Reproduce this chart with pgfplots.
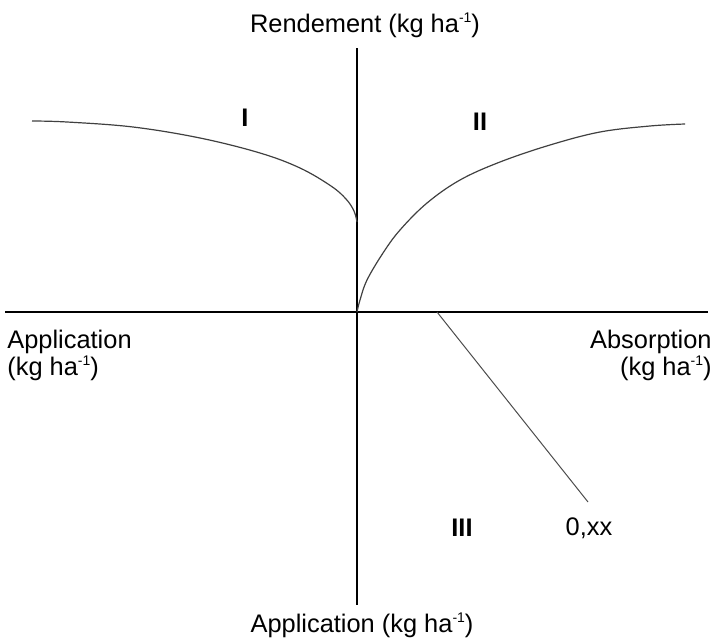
\documentclass[border=0pt]{standalone}
\usepackage{fontspec}
\setmainfont{Liberation Sans}
\usepackage{pgfplots}
\pgfplotsset{compat=1.18}
\newcommand{\supx}[1]{\raisebox{0.75ex}{\scriptsize #1}}
\begin{document}
\begin{tikzpicture}
\begin{axis}[
  scale only axis, width=357.5pt, height=319.5pt,
  xmin=-357, xmax=358, ymin=-327, ymax=312,
  hide axis, clip=false,
]
\path (rel axis cs:0,0) rectangle (rel axis cs:1,1);
% axes
\addplot[black, line width=1.1pt] coordinates {(-352,0) (351,0)};
\addplot[black, line width=1.1pt] coordinates {(0,264) (0,-293)};
% quadrant I curve
\addplot[smooth, tension=0.6, black!75, line width=0.6pt] coordinates {
(-325,191) (-290,190) (-224,185) (-157,174) (-97,159) (-57,144) (-26,126) (-11,113) (-3,101) (0,90)};
% quadrant II curve
\addplot[smooth, tension=0.6, black!75, line width=0.6pt] coordinates {
(0,0) (3,12) (10,32) (26,59) (43,82) (70,109) (103,132) (143,150) (193,167) (243,180) (293,186) (328,188)};
% quadrant IV line
\addplot[black!70, line width=0.5pt] coordinates {(80,0) (231,-190)};
\begin{scope}[every node/.style={font=\fontsize{12.7}{12}\selectfont, inner sep=0pt}]
\node at (axis cs:8,287) {Rendement (kg ha\supx{-1})};
\node at (axis cs:-112,194) {\bfseries I};
\node at (axis cs:123,190) {\bfseries II};
\node[anchor=north west, align=left] at (axis cs:-350,-18) {Application\\(kg ha\supx{-1})};
\node[anchor=north east, align=right] at (axis cs:355,-18) {Absorption\\(kg ha\supx{-1})};
\node at (axis cs:105,-216) {\bfseries III};
\node at (axis cs:232,-216) {0,xx};
\node at (axis cs:5,-313) {Application (kg ha\supx{-1})};
\end{scope}
\end{axis}
\end{tikzpicture}
\end{document}
